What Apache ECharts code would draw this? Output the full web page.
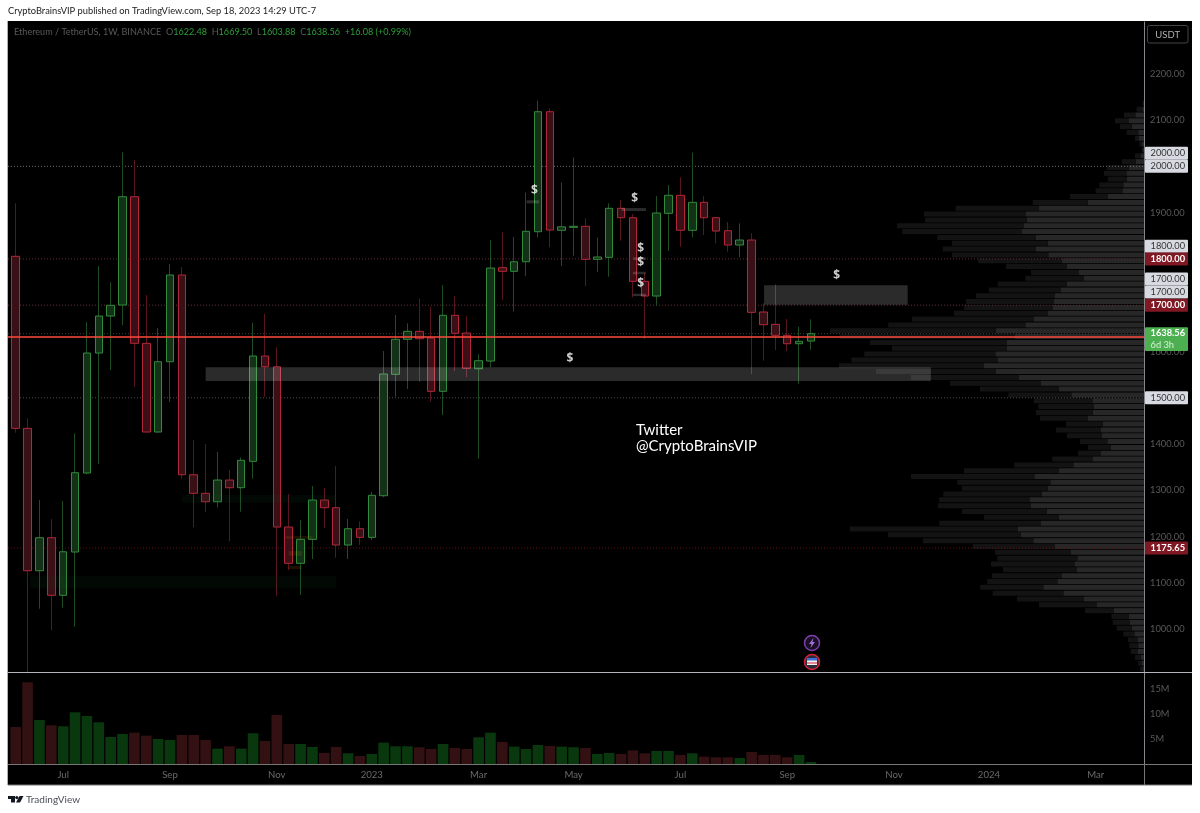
<!DOCTYPE html>
<html>
<head>
<meta charset="utf-8">
<title>ETHUSDT 1W</title>
<style>
  html, body { margin: 0; padding: 0; background: #fff; }
  #chart { width: 1200px; height: 813px; }
</style>
</head>
<body>
<div id="chart"></div>
<script src="https://cdn.jsdelivr.net/npm/echarts@6/dist/echarts.min.js"></script>
<script>
// weekly candles, first bar is the week of Jun 6 2022
var opens = [1805.6,1434,1126.5,1197.8,1073.4,1166.9,1337.5,1596.7,1676.6,1700.4,
  1934.3,1617.7,1426.1,1577.9,1765.2,1333.8,1293.7,1275.5,1322.4,1305.8,
  1362.8,1590.2,1567.1,1220.9,1142.5,1194.3,1279.2,1262.6,1182,1217.2,
  1198.6,1288.5,1550.7,1626.3,1643.6,1629.1,1514,1678.2,1639.9,1562.8,
  1579.4,1781,1773.2,1793.9,1858.7,2117.9,1861.8,1868.2,1870.4,1799.1,
  1803.4,1909.3,1889,1751.6,1719.8,1898.5,1937.4,1861.8,1922.2,1889,
  1860.9,1830,1840.8,1685.3,1658.7,1635,1616.8,1622.48];
var closes = [1434,1126.5,1197.8,1073.4,1167.5,1338.2,1596.7,1676.6,1699.8,1934.3,
  1617.7,1426.1,1577.9,1765.2,1333.8,1293.7,1275.5,1322.4,1305.8,1365,
  1590.2,1567.1,1220.9,1142.5,1194.3,1279.2,1262.6,1182,1217.2,1198.6,
  1289.4,1551.4,1626.3,1643.6,1627.6,1514,1678.2,1639.3,1563.7,1580.1,
  1780.3,1773.2,1793.9,1859.6,2117.9,1862.4,1869.3,1870.4,1799.1,1804.1,
  1909.3,1889,1751.6,1719.8,1899.1,1937.4,1861.8,1922.2,1889,1860.2,
  1830,1840.8,1684.6,1657.8,1635,1616.8,1622,1638.56];
var lows = [1424.6,905,1044.4,997.8,1046.6,1005.5,1335,1357,1560,1657.2,
  1523.9,1425,1424.6,1490.9,1325.2,1220.2,1253.9,1263.4,1190,1253.9,
  1325.2,1501.7,1072.5,1128,1074,1151.8,1219.4,1154.6,1151.8,1182,
  1192.8,1285,1502.3,1519,1534.7,1491.5,1462.8,1557.8,1544.2,1368.4,
  1565.8,1711.2,1685.9,1763,1846.6,1825,1784.6,1806.9,1741.4,1771.7,
  1761.5,1839.3,1717,1627,1698.9,1817,1826.3,1846.6,1851.6,1833.7,
  1815.5,1803.4,1550.7,1580.1,1603.2,1601,1530.4,1603.88];
var highs = [1920,1455.7,1279.2,1238.2,1277,1423.3,1663.7,1784.6,1749.4,2030.2,
  2013.6,1722,1650.7,1789,1782.5,1408.8,1400.2,1382.9,1344,1371.4,
  1662.2,1681,1609,1292.2,1236,1309.4,1305.1,1352.6,1238.2,1233.2,
  1296.5,1601,1678.8,1660.9,1714,1696.7,1743.6,1719.8,1676.6,1593.9,
  1840.8,1857.4,1847.3,1943,2141.7,2125.3,1965,2019.4,1887.7,1846.6,
  1920,1927.2,1897,1768.9,1935.8,1959.6,1976.2,2029.4,1935.8,1890.5,
  1879.7,1876.9,1855.3,1704.1,1745.1,1670.2,1653.5,1669.5];
// volume in millions
var volumes = [7.47,16.4,8.87,7.8,7.6,10.4,9.67,8.4,5.47,6.07,
  6.33,5.73,5.07,4.87,5.87,5.87,4.87,3.13,3.6,3.13,
  6.2,4.67,9.87,4.07,4.07,3.47,2.27,3.47,2.2,1.67,
  2.07,4.33,3.6,3.6,3.4,3.07,4.07,3.27,3.07,5.4,
  6.33,4.47,3.53,3.07,3.87,3.67,3.53,3.4,3.27,2.07,
  2.27,2.07,2.8,2.2,2.67,2.67,1.87,2.2,1.53,1.4,
  1.4,1.27,2.47,1.87,1.87,1.4,1.87,0.47];
// volume profile rows, top row first
var profileNear = [0.7,1.7,8.7,15,12.3,5.7,5,2.3,1,3.3,8.3,15,17.7,17.3,20.7,21.7,36,56.3,105.3,118,
  117.3,120,122,108,96.3,108,95.7,82,77.3,65,60.3,77.3,83,89,90,91,96,110,118.7,148.3,
  129,137,137,148.7,146,160,148,125,103,85.3,72.7,51.7,50,51.3,56,41.3,43,42,36.7,33,
  43,51,70.7,85,109.7,93.7,96.3,102,114,113,97.3,85.3,103,126,123,110.7,89,73,66.7,69,
  67,82,86.7,100.7,80.7,60,47,30,15.3,14,12.3,9.7,6,5.7,6,3.3,2.7,1.7];
var profileFar = [0.7,5.7,11.3,14,11.7,11.7,4,2.3,1.3,5.7,14,22.3,22.3,19,24,26.7,38,55,83,102,
  101.7,127,119.7,98.7,95.7,93.3,96.3,84,60.7,48,58.3,69,72,79,88,89,94,122,137,166.7,
  175,137,115,131,146.7,145,120,108,91,78.7,63,58.3,55.7,56.7,48,36.7,45,35,27.3,23,
  23,40.7,59,95,123.3,93,85.7,98.7,91,93,84.7,74.7,101.7,168,133,110.3,82.3,76,80,84,
  74,70,70,63,70.7,67,58,29,17.3,17.3,15,11,10,9,7.3,5.7,3,2.3];
var tickIndexes = [4,13,22,30,39,47,56,65,74,82,91];
var tickLabels = ['Jul','Sep','Nov','2023','Mar','May','Jul','Sep','Nov','2024','Mar'];
var priceTicks = [1000,1100,1200,1300,1400,1500,1600,1700,1800,1900,2000,2100,2200];
var volumeTicks = [5,10,15];
// horizontal levels
var levelPrices = [2000,1800,1700,1638.56,1500,1175.65];
var redLinePrice = 1631.3;
// price tags on the right scale
var tagLabels = ['2000.00','2000.00','1800.00','1800.00','1700.00','1700.00','1700.00','1500.00','1175.65'];
var tagPrices = [2028,2000,1827.2,1800,1756.6,1728.5,1700,1500,1175.65];
var tagKinds = ['gray','gray','gray','red','gray','gray','red','gray','red'];
// drawn zones
var zoneStarts = [16,63.05,1.2,14,22.7,23,23,43.05,51.05,52,52,52];
var zoneEnds = [77.1,75.15,27,26.9,25,24.1,24.1,44.1,53.1,53.1,53.1,53.1];
var zoneTops = [1565.8,1742.9,1115,1290,1201.4,1169,1136.6,1926.6,1909.9,1803.4,1772.3,1724.8];
var zoneBottoms = [1536.2,1701,1088.5,1273.4,1195.6,1158.8,1130,1920,1903.4,1797.6,1766.7,1719.8];
var zoneKinds = ['gray','gray','green','green','orange','orange','orange','gray','gray','gray','gray','gray'];
// $ notes
var noteIndexes = [43.7,52.15,52.65,52.65,52.65,69.16,46.7];
var notePrices = [1948.2,1929.4,1822.9,1791.8,1745.8,1763,1585.3];

var PRICE_MIN = 906.7, PRICE_MAX = 2311.7;
var X_MIN = -0.649, X_MAX = 95.06;
var font = 'Lato, "Noto Sans", sans-serif';
var upBody = '#123116', upBorder = '#33893c', upWick = '#1e4d24';
var downBody = '#3a0f15', downBorder = '#b2283a', downWick = '#5a1620';
var zoneColors = { gray: 'rgba(255,255,255,0.17)', green: 'rgba(30,110,50,0.07)', orange: 'rgba(190,130,20,0.15)' };
var levelColors = ['#6a6a6a', '#5e2a30', '#6a2a32', '#3c3c3c', '#4a4a4a', '#661018'];
var tagStyles = {
  gray: { fill: '#d8dae2', text: '#333', weight: 'normal' },
  red: { fill: '#7f1822', text: '#fff', weight: 'bold' }
};

var candleIdx = opens.map(function (v, i) { return i; });
var wickData = candleIdx.map(function (i) { return [i, opens[i], closes[i], lows[i], highs[i]]; });
var bodyData = candleIdx.map(function (i) {
  return [i, opens[i], closes[i], Math.min(opens[i], closes[i]), Math.max(opens[i], closes[i])];
});
var volumeData = candleIdx.map(function (i) {
  return { value: [i, volumes[i]], itemStyle: { color: closes[i] >= opens[i] ? '#0a380e' : '#331113' } };
});
var rows = profileNear.map(function (v, i) { return 'r' + i; });

var series = [
  { type: 'bar', xAxisIndex: 2, yAxisIndex: 2, stack: 'vp', data: profileNear, barWidth: 5, silent: true,
    itemStyle: { color: '#272727' }, z: 1 },
  { type: 'bar', xAxisIndex: 2, yAxisIndex: 2, stack: 'vp', data: profileFar, barWidth: 5, silent: true,
    itemStyle: { color: '#131313' }, z: 1 }
];

levelPrices.forEach(function (p, i) {
  series.push({ type: 'line', xAxisIndex: 0, yAxisIndex: 0, symbol: 'none', silent: true, z: 2,
    data: [[X_MIN, p], [X_MAX, p]],
    lineStyle: { color: levelColors[i], width: 1, type: [1, 2] } });
});

series.push({ type: 'candlestick', xAxisIndex: 0, yAxisIndex: 0, data: wickData, barWidth: 1, z: 3,
  itemStyle: { color: upWick, color0: downWick, borderColor: upWick, borderColor0: downWick, borderWidth: 1 } });
series.push({ type: 'candlestick', xAxisIndex: 0, yAxisIndex: 0, data: bodyData, barWidth: 8, z: 4,
  itemStyle: { color: upBody, color0: downBody, borderColor: upBorder, borderColor0: downBorder, borderWidth: 1 } });

series.push({ type: 'custom', xAxisIndex: 0, yAxisIndex: 0, z: 5, silent: true,
  data: zoneStarts.map(function (s, i) { return [s, zoneEnds[i], zoneTops[i], zoneBottoms[i]]; }),
  encode: { x: [0, 1], y: [2, 3] },
  renderItem: function (params, api) {
    var a = api.coord([api.value(0), api.value(2)]);
    var b = api.coord([api.value(1), api.value(3)]);
    return { type: 'rect', shape: { x: a[0], y: a[1], width: b[0] - a[0], height: b[1] - a[1] },
      style: { fill: zoneColors[zoneKinds[params.dataIndex]] } };
  } });

series.push({ type: 'line', xAxisIndex: 0, yAxisIndex: 0, symbol: 'none', silent: true, z: 6,
  data: [[X_MIN, redLinePrice], [X_MAX, redLinePrice]],
  lineStyle: { color: '#ff4a3c', width: 1.5 } });

series.push({ type: 'scatter', xAxisIndex: 0, yAxisIndex: 0, z: 7, silent: true, symbolSize: 1,
  itemStyle: { color: 'transparent' },
  data: noteIndexes.map(function (x, i) { return [x, notePrices[i]]; }),
  label: { show: true, position: 'inside', formatter: '$', color: '#fff', fontFamily: '"Noto Sans", sans-serif', fontWeight: 'bold', fontSize: 12 } });

series.push({ type: 'bar', xAxisIndex: 1, yAxisIndex: 1, data: volumeData, barWidth: 10.6, silent: true });

series.push({ type: 'custom', xAxisIndex: 0, yAxisIndex: 0, z: 8, silent: true,
  data: tagPrices.map(function (p) { return [X_MAX, p]; }),
  encode: { x: 0, y: 1 },
  renderItem: function (params, api) {
    var c = api.coord([api.value(0), api.value(1)]);
    var st = tagStyles[tagKinds[params.dataIndex]];
    return { type: 'group', children: [
      { type: 'rect', shape: { x: c[0] + 1, y: c[1] - 6.5, width: 43, height: 13, r: 1 }, style: { fill: st.fill } },
      { type: 'text', style: { x: c[0] + 6.5, y: c[1], text: tagLabels[params.dataIndex], fill: st.text,
        font: st.weight + ' 9.3px ' + font, verticalAlign: 'middle' } }
    ] };
  } });

// last price tag, two lines
series.push({ type: 'custom', xAxisIndex: 0, yAxisIndex: 0, z: 8, silent: true,
  data: [[X_MAX, closes[closes.length - 1]]],
  encode: { x: 0, y: 1 },
  renderItem: function (params, api) {
    var c = api.coord([api.value(0), api.value(1)]);
    return { type: 'group', children: [
      { type: 'rect', shape: { x: c[0] + 1, y: c[1] - 6.3, width: 43, height: 23.7, r: 1 }, style: { fill: '#4caf50' } },
      { type: 'text', style: { x: c[0] + 6.5, y: c[1] - 1, text: closes[closes.length - 1].toFixed(2), fill: '#fff',
        font: 'bold 9.3px ' + font, verticalAlign: 'middle' } },
      { type: 'text', style: { x: c[0] + 6.5, y: c[1] + 11, text: '6d 3h', fill: '#d8f0d8',
        font: '9.3px ' + font, verticalAlign: 'middle' } }
    ] };
  } });

var option = {
  backgroundColor: '#fff',
  animation: false,
  grid: [
    { left: 8, top: 22, width: 1136, height: 650.5 },
    { left: 8, top: 673, width: 1136, height: 91.3 },
    { left: 830, top: 100.4, width: 314, height: 571.5 }
  ],
  xAxis: [
    { type: 'value', gridIndex: 0, min: X_MIN, max: X_MAX, show: false },
    { type: 'value', gridIndex: 1, min: X_MIN, max: X_MAX, position: 'bottom',
      axisLine: { show: true, onZero: false, lineStyle: { color: '#777' } },
      axisTick: { show: false, customValues: tickIndexes },
      splitLine: { show: false },
      axisLabel: { customValues: tickIndexes, color: '#6a6a6a', fontFamily: font, fontSize: 9.6, margin: 6,
        formatter: function (v) { return tickLabels[tickIndexes.indexOf(v)]; } } },
    { type: 'value', gridIndex: 2, min: 0, max: 314, inverse: true, show: false }
  ],
  yAxis: [
    { type: 'value', gridIndex: 0, min: PRICE_MIN, max: PRICE_MAX, position: 'right', scale: true,
      axisLine: { show: true, onZero: false, lineStyle: { color: '#85858c' } },
      axisTick: { show: false },
      splitLine: { show: false },
      axisLabel: { customValues: priceTicks, color: '#5a5a5a', fontFamily: font, fontSize: 9.3, margin: 6,
        formatter: function (v) { return v.toFixed(2); } } },
    { type: 'value', gridIndex: 1, min: 0, max: 18.26, position: 'right',
      axisLine: { show: true, onZero: false, lineStyle: { color: '#85858c' } },
      axisTick: { show: false },
      splitLine: { show: false },
      axisLabel: { customValues: volumeTicks, color: '#5a5a5a', fontFamily: font, fontSize: 9.3, margin: 6,
        formatter: function (v) { return v + 'M'; } } },
    { type: 'category', gridIndex: 2, data: rows, inverse: true, show: false }
  ],
  graphic: [
    { type: 'rect', z: -10, shape: { x: 8, y: 21, width: 1184, height: 764 }, style: { fill: '#000' } },
    { type: 'line', z: 10, shape: { x1: 7.5, y1: 21, x2: 7.5, y2: 785 }, style: { stroke: '#b0b0b0', lineWidth: 1 } },
    { type: 'line', z: 10, shape: { x1: 8, y1: 785, x2: 1192, y2: 785 }, style: { stroke: '#777', lineWidth: 1 } },
    { type: 'line', z: 10, shape: { x1: 8, y1: 672.5, x2: 1192, y2: 672.5 }, style: { stroke: '#b2b5be', lineWidth: 1 } },
    { type: 'line', z: 10, shape: { x1: 8, y1: 764.5, x2: 1192, y2: 764.5 }, style: { stroke: '#777', lineWidth: 1 } },
    { type: 'line', z: 10, shape: { x1: 1144.5, y1: 764, x2: 1144.5, y2: 785 }, style: { stroke: '#777', lineWidth: 1 } },
    { type: 'text', z: 10, style: { x: 8, y: 11, text: 'CryptoBrainsVIP published on TradingView.com, Sep 18, 2023 14:29 UTC-7',
      fill: '#222', font: '9.3px ' + font, verticalAlign: 'middle' } },
    { type: 'text', z: 10, style: { x: 14, y: 32, verticalAlign: 'middle',
      text: '{g|Ethereum / TetherUS, 1W, BINANCE}  {g|O}{v|1622.48}  {g|H}{v|1669.50}  {g|L}{v|1603.88}  {g|C}{v|1638.56}  {v|+16.08 (+0.99%)}',
      font: '9.1px ' + font,
      rich: { g: { fill: '#5a5a5a', font: '9.1px ' + font }, v: { fill: '#2e9e3a', font: '9.1px ' + font } } } },
    { type: 'rect', z: 10, shape: { x: 1147.5, y: 25.5, width: 40.5, height: 17.5, r: 2 }, style: { fill: '#000', stroke: '#444', lineWidth: 1 } },
    { type: 'text', z: 11, style: { x: 1167.7, y: 34.5, text: 'USDT', fill: '#b0b0b0', font: '9.5px ' + font, align: 'center', verticalAlign: 'middle' } },
    { type: 'text', z: 10, style: { x: 636, y: 430, text: 'Twitter', fill: '#fff', font: '15px ' + font, verticalAlign: 'middle' } },
    { type: 'text', z: 10, style: { x: 636, y: 446, text: '@CryptoBrainsVIP', fill: '#fff', font: '15px ' + font, verticalAlign: 'middle' } },
    // event icons
    { type: 'circle', z: 10, shape: { cx: 812, cy: 643, r: 7.5 }, style: { fill: '#1a0f24', stroke: '#7d3fb0', lineWidth: 1.5 } },
    { type: 'polygon', z: 11, shape: { points: [[813.5, 638], [809, 644], [811.5, 644], [810.5, 648], [815, 642], [812.5, 642]] }, style: { fill: '#a070d8' } },
    { type: 'circle', z: 10, shape: { cx: 812, cy: 662, r: 7.5 }, style: { fill: '#2a2a3a', stroke: '#d8243a', lineWidth: 1.5 } },
    { type: 'rect', z: 11, shape: { x: 807, y: 660, width: 10, height: 5 }, style: { fill: '#f0f0f0' } },
    { type: 'rect', z: 11, shape: { x: 807, y: 658, width: 10, height: 2.5 }, style: { fill: '#3a6fd8' } },
    { type: 'rect', z: 11, shape: { x: 807, y: 662.5, width: 10, height: 1 }, style: { fill: '#d8243a' } },
    // TradingView mark
    { type: 'polygon', z: 10, shape: { points: [[8, 796], [15, 796], [15, 802.5], [11, 802.5], [11, 799], [8, 799]] }, style: { fill: '#131722' } },
    { type: 'circle', z: 10, shape: { cx: 16.8, cy: 797.6, r: 1.6 }, style: { fill: '#131722' } },
    { type: 'polygon', z: 10, shape: { points: [[19.5, 796], [23.5, 796], [20, 802.5], [16, 802.5]] }, style: { fill: '#131722' } },
    { type: 'text', z: 10, style: { x: 26, y: 799.5, text: 'TradingView', fill: '#4a4e58', font: '10px ' + font, verticalAlign: 'middle' } }
  ],
  series: series
};

var myChart = echarts.init(document.getElementById('chart'));
myChart.setOption(option);
</script>
</body>
</html>
